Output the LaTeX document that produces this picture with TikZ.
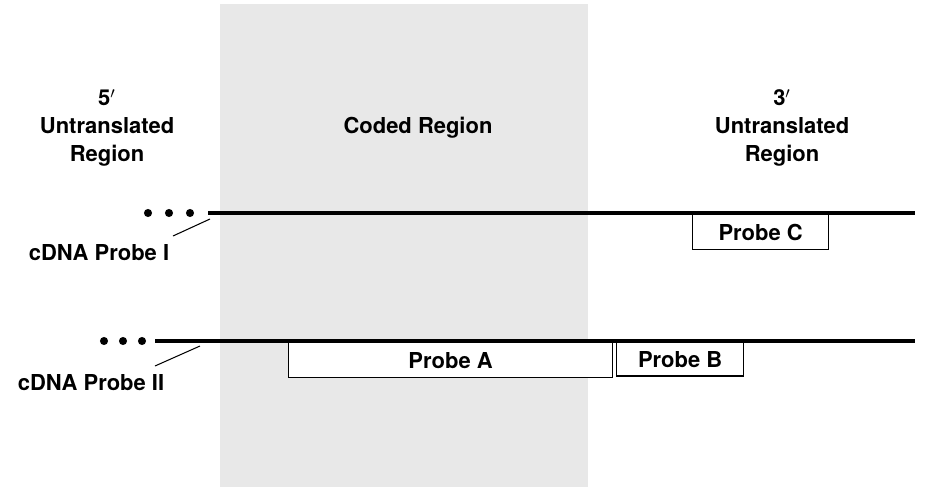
\documentclass[tikz,border=0pt]{standalone}
\usepackage{fontspec}
\setmainfont{TeX Gyre Heros}
\usetikzlibrary{positioning}

\begin{document}
\begin{tikzpicture}[x=0.02cm,y=-0.02cm,font=\fontsize{12.5}{15}\selectfont\bfseries,
  strand/.style={line width=1.8pt},
  leader/.style={line width=0.6pt},
  probebox/.style={draw,line width=0.7pt,fill=white,anchor=north west,minimum height=0.7cm,inner sep=0pt},
  regionlabel/.style={align=center}]
  \useasboundingbox (0,0) rectangle (930,487);
  % coded region shading
  \fill[black!9] (220,4) rectangle (588,487);
  % region headings
  \node[regionlabel] (fiveprime) at (107,128) {5$'$\\[1pt]Untranslated\\[1pt]Region};
  \node (coded) at (418,128) {Coded Region};
  \node[regionlabel] (threeprime) at (782,128) {3$'$\\[1pt]Untranslated\\[1pt]Region};
  % probe I strand
  \coordinate (oneL) at (208,213);
  \coordinate (oneR) at (915,213);
  \draw[strand] (oneL) -- (oneR);
  \foreach \x in {148,169,190}{
    \fill (\x,213) circle[radius=2.3pt];
  }
  \node (probeI) at (99,253) {cDNA Probe I};
  \coordinate (oneTip) at (210,219);
  \draw[leader] (173,236) -- (oneTip);
  \node[probebox,minimum width=2.72cm] (probeC) at (692,214) {Probe C};
  % probe II strand
  \coordinate (twoL) at (155,341);
  \coordinate (twoR) at (915,341);
  \draw[strand] (twoL) -- (twoR);
  \foreach \x in {104,123,142}{
    \fill (\x,341) circle[radius=2.3pt];
  }
  \node (probeII) at (91,383) {cDNA Probe II};
  \coordinate (twoTip) at (200,346);
  \draw[leader] (155,366) -- (twoTip);
  \node[probebox,minimum width=6.48cm] (probeA) at (288,342) {Probe A};
  \node[probebox,minimum width=2.54cm,minimum height=0.67cm] (probeB) at (616,342) {Probe B};
\end{tikzpicture}
\end{document}
